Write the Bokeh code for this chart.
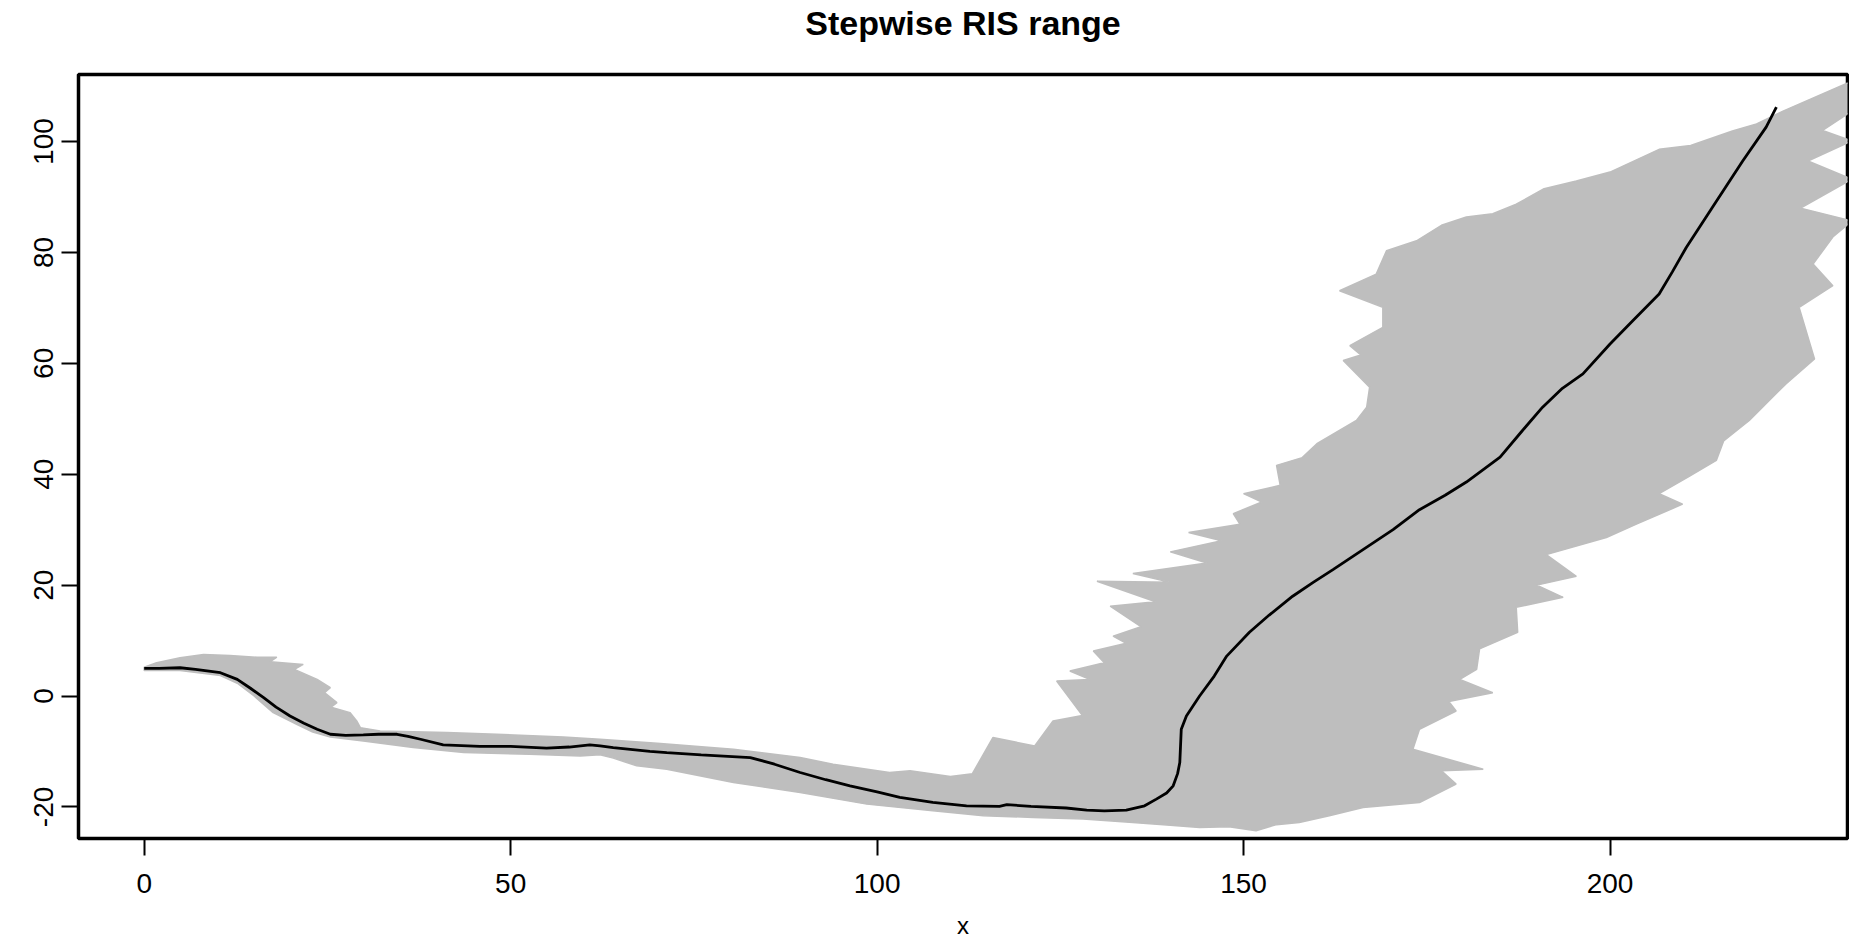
from bokeh.plotting import figure
from bokeh.models import Range1d, FixedTicker, Title
from bokeh.embed import file_html
from bokeh.resources import INLINE

# ---- data ----
# mean path (black line)
mean_x = [0.0, 2.0, 4.9, 7.0, 10.4, 12.7, 14.5, 16.3, 18.0, 19.9, 21.8, 23.6, 25.4, 27.5, 29.9,
          32.0, 34.5, 36.0, 37.7, 40.8, 45.8, 50.0, 54.9, 58.0, 60.8, 62.2, 64.0, 69.0, 71.3,
          76.0, 82.7, 86.0, 89.5, 93.0, 96.3, 100.0, 103.1, 107.6, 112.2, 116.7, 117.7, 121.0,
          125.8, 128.6, 131.0, 134.0, 136.5, 138.1, 139.5, 140.4, 141.0, 141.3, 141.5, 142.2,
          144.0, 146.0, 147.7, 150.8, 153.5, 156.7, 159.5, 162.2, 166.3, 170.4, 174.0, 177.5,
          180.4, 185.0, 188.0, 190.8, 193.5, 196.3, 200.0, 203.1, 206.7, 208.5, 210.4, 214.0,
          218.1, 221.3, 222.7]
mean_y = [5.0, 5.0, 5.1, 4.8, 4.2, 3.0, 1.4, -0.3, -2.0, -3.6, -4.9, -6.0, -6.9, -7.1, -7.0,
          -6.9, -6.9, -7.3, -7.8, -8.8, -9.1, -9.1, -9.4, -9.2, -8.8, -9.0, -9.3, -10.0, -10.2,
          -10.6, -11.1, -12.3, -13.8, -15.1, -16.2, -17.3, -18.3, -19.2, -19.8, -19.9, -19.6, -19.9,
          -20.2, -20.6, -20.7, -20.6, -19.8, -18.6, -17.5, -16.2, -14.0, -12.0, -6.0, -3.6,
          0.0, 3.6, 7.2, 11.5, 14.6, 18.0, 20.5, 22.8, 26.4, 30.0, 33.6, 36.2,
          38.6, 43.1, 47.8, 52.1, 55.5, 58.1, 63.5, 67.7, 72.5, 76.5, 80.9, 88.2,
          96.5, 102.6, 106.2]

# envelope of the simulated paths (grey bundle): upper/left edge
upper_x = [0.0, 1.7, 4.9, 8.1, 11.7, 15.4, 18.1, 17.2, 21.7, 20.5, 23.6, 25.4, 24.6, 26.3, 25.5,
           28.1, 29.0, 29.5, 32.2, 41.3, 48.1, 57.2, 62.2, 70.0, 80.4, 89.5, 94.0, 101.7, 104.5,
           110.0, 113.0, 115.8, 121.5, 124.0, 128.0, 124.5, 129.0, 126.3, 131.0, 129.5, 134.0,
           132.2, 136.0, 131.8, 138.0, 130.0, 140.0, 134.9, 145.0, 140.0, 147.0, 142.5, 149.5,
           148.6, 152.5, 150.0, 155.0, 154.5, 158.0, 160.0, 165.4, 166.8, 167.2, 163.6, 166.0,
           164.5, 169.0, 169.0, 163.1, 168.1, 169.5, 173.6, 177.0, 180.4, 184.0, 187.2, 191.0,
           195.4, 200.0, 206.7, 211.0, 216.7, 220.0, 223.6, 233.0]
upper_y = [5.2, 6.0, 6.9, 7.5, 7.3, 7.0, 7.0, 6.2, 5.7, 4.8, 3.0, 1.5, 0.6, -1.2, -2.0,
           -3.0, -4.5, -5.7, -6.3, -6.6, -6.9, -7.4, -7.8, -8.5, -9.6, -11.1, -12.3, -13.8, -13.5,
           -14.5, -14.0, -7.5, -9.0, -4.5, -3.5, 2.7, 3.0, 4.5, 6.0, 8.1, 9.5,
           10.8, 12.5, 16.2, 17.0, 20.7, 20.5, 22.1, 24.0, 26.0, 28.0, 29.5, 31.0,
           32.9, 35.0, 36.5, 38.0, 41.6, 43.0, 45.5, 49.7, 52.1, 55.7, 60.5, 61.5,
           63.2, 66.5, 70.1, 73.1, 76.1, 80.3, 82.1, 84.9, 86.4, 87.0, 88.7, 91.5,
           92.9, 94.5, 98.6, 99.3, 101.9, 103.2, 105.5, 110.9]

# lower/right edge of the grey bundle
lower_x = [0.0, 4.9, 10.4, 12.7, 15.0, 17.6, 20.8, 23.0, 25.4, 29.9, 36.7, 43.6, 52.6, 59.5,
           62.2, 64.0, 67.2, 71.3, 80.4, 89.5, 98.6, 107.6, 114.5, 121.3, 128.1, 134.9, 140.0,
           144.0, 148.0, 151.7, 154.5, 157.6, 161.7, 166.3, 174.0, 179.0, 177.0, 182.7, 173.1,
           174.0, 179.0, 178.0, 184.0, 179.5, 181.8, 182.2, 187.4, 187.2, 193.6, 190.0, 195.4,
           191.3, 199.5, 203.6, 209.9, 206.7, 210.8, 214.5, 215.5, 219.0, 224.0, 227.9, 225.8,
           230.4, 227.7, 230.4, 233.0, 226.0, 233.0, 227.0, 233.0, 229.0, 233.0, 233.0]
lower_y = [4.6, 4.6, 3.7, 2.3, 0.0, -3.0, -5.1, -6.5, -7.4, -8.1, -9.3, -10.2, -10.5, -10.8,
           -10.6, -11.2, -12.6, -13.2, -15.6, -17.4, -19.5, -20.7, -21.6, -21.9, -22.2, -22.8, -23.3,
           -23.7, -23.6, -24.3, -23.2, -22.8, -21.6, -20.1, -19.2, -15.9, -13.5, -13.2, -9.6,
           -6.0, -2.7, -1.0, 0.6, 3.0, 4.8, 8.5, 11.5, 16.0, 17.8, 20.0, 21.6,
           25.5, 28.6, 31.0, 34.6, 36.5, 39.6, 42.5, 46.0, 49.7, 56.3, 60.8, 70.1,
           74.0, 77.9, 82.8, 85.7, 88.0, 93.2, 96.5, 100.1, 102.0, 105.5, 108.5]

x_ticks = [0, 50, 100, 150, 200]
y_ticks = [-20, 0, 20, 40, 60, 80, 100]
y_tick_labels = ["-20", "0", "20", "40", "60", "80", "100"]
title_text = "Stepwise RIS range"
x_label_text = "x"

FONT = "Liberation Sans"

p = figure(width=1849, height=941, output_backend="svg", toolbar_location=None,
           x_range=Range1d(-8.96, 232.4), y_range=Range1d(-25.7, 112.1),
           min_border_left=78, min_border_right=2, min_border_top=74, min_border_bottom=101)

p.background_fill_color = "white"
p.border_fill_color = "white"
p.grid.visible = False
p.outline_line_color = "black"
p.outline_line_width = 3.5

# title: a blank spacer next to the frame, then the title text above it
spacer = Title(text=" ", text_font_size="2px", standoff=29)
main_title = Title(text=title_text, align="center", vertical_align="bottom",
                   text_font=FONT, text_font_style="bold", text_font_size="34px",
                   text_color="black", standoff=0)
p.add_layout(spacer, "above")
p.add_layout(main_title, "above")

# grey bundle
band_x = upper_x + lower_x[::-1]
band_y = upper_y + lower_y[::-1]
p.patch(band_x, band_y, fill_color="#BEBEBE", line_color="#BEBEBE", line_width=1.5)

# mean path
p.line(mean_x, mean_y, line_color="black", line_width=2.8)

# axes
for ax in (p.xaxis, p.yaxis):
    ax.axis_line_color = None
    ax.major_tick_in = 0
    ax.major_tick_out = 17
    ax.major_tick_line_width = 2
    ax.major_tick_line_color = "black"
    ax.minor_tick_line_color = None
    ax.major_label_text_font = FONT
    ax.major_label_text_font_size = "28px"
    ax.major_label_text_color = "black"

p.xaxis.ticker = FixedTicker(ticks=x_ticks)
p.yaxis.ticker = FixedTicker(ticks=y_ticks)
p.yaxis.major_label_overrides = {t: s for t, s in zip(y_ticks, y_tick_labels)}
p.xaxis.major_label_standoff = 18
p.yaxis.major_label_standoff = 8
p.yaxis.major_label_orientation = "parallel"

p.xaxis.axis_label = x_label_text
p.xaxis.axis_label_text_font = FONT
p.xaxis.axis_label_text_font_style = "normal"
p.xaxis.axis_label_text_font_size = "24px"
p.xaxis.axis_label_text_color = "black"
p.xaxis.axis_label_standoff = 16

open("out.html", "w").write(file_html(p, INLINE))
